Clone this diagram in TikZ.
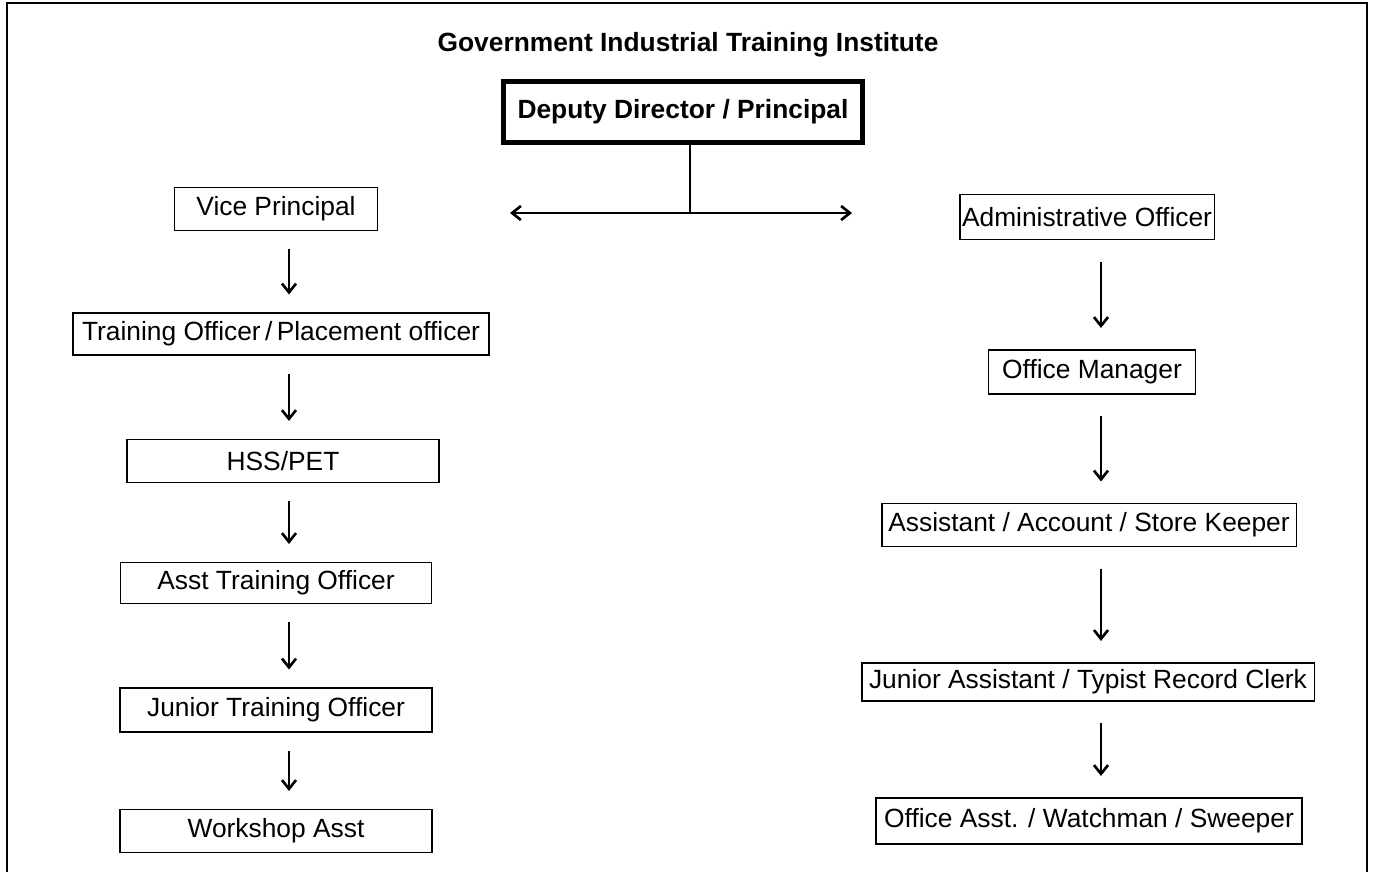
\documentclass[tikz,border=0pt]{standalone}
\usepackage{fontspec}
\setmainfont{Liberation Sans}
\usepackage{tikz}
\usetikzlibrary{arrows.meta}
\tikzset{
  >={Straight Barb[length=5pt,width=8pt,line width=1.5pt]},
  post/.style={draw, line width=1.1pt, inner sep=0pt, minimum height=#1,
    font=\fontsize{15}{18}\selectfont},
  post/.default={0.86cm},
  down/.style={->, line width=0.6pt, shorten <=#1, shorten >=#1},
  down/.default={10pt}
}

\begin{document}
\begin{tikzpicture}[x=0.02cm, y=-0.02cm]
                \useasboundingbox (0,0) rectangle (1373,872);

                % frame, open at the bottom
                \draw[line width=1.1pt] (7,872) -- (7,3) -- (1367,3) -- (1367,872);

                % heading
                \node (title) at (688,45) {\fontsize{15}{18}\selectfont\bfseries Government Industrial Training Institute};

                % top post
                \node[draw, line width=2.8pt, minimum width=7.18cm, minimum height=1.22cm,
                      font=\fontsize{15}{18}\selectfont\bfseries] (dd) at (683,112) {Deputy Director / Principal};

                % split to the two wings
                \coordinate (hub) at (690,213);
                \coordinate (hubL) at (510,213);
                \coordinate (hubR) at (852,213);
                \draw[line width=0.6pt] (dd.south -| hub) -- (hub);
                \draw[<->, line width=0.6pt] (hubL) -- (hubR);

                %Left: training side
                \node[post, minimum width=4.06cm] (vp) at (276,209) {Vice Principal};
                \node[post, minimum width=8.32cm, minimum height=0.84cm] (tpo) at (281,334) {Training Officer\,/\,Placement officer};
                \node[post, minimum width=6.24cm] (hss) at (283,461) {HSS/PET};
                \node[post, minimum width=6.22cm, minimum height=0.82cm] (ato) at (276,583) {Asst Training Officer};
                \node[post, minimum width=6.24cm, minimum height=0.88cm] (jto) at (276,710) {Junior Training Officer};
                \node[post, minimum width=6.24cm] (wsa) at (276,831) {Workshop Asst};

                %Right: office side
                \node[post, minimum width=5.1cm, minimum height=0.9cm] (ao) at (1087,217) {Administrative Officer};
                \node[post, minimum width=4.14cm, minimum height=0.88cm] (om) at (1092,372) {Office Manager};
                \node[post, minimum width=8.3cm] (ask) at (1089,525) {Assistant / Account / Store Keeper};
                \node[post, minimum width=9.06cm, minimum height=0.76cm] (jat) at (1088,682) {Junior Assistant / Typist Record Clerk};
                \node[post, minimum width=8.52cm, minimum height=0.92cm] (oaw) at (1089,821) {Office Asst. / Watchman / Sweeper};

                % arrows down each column
                \coordinate (lx) at (289,0);
                \coordinate (rx) at (1101,0);
                \foreach \a/\b in {vp/tpo, tpo/hss, hss/ato, ato/jto, jto/wsa}
                    \draw[down] (\a.south -| lx) -- (\b.north -| lx);
                \foreach \a/\b in {ao/om, om/ask, ask/jat, jat/oaw}
                    \draw[down=12pt] (\a.south -| rx) -- (\b.north -| rx);
            \end{tikzpicture}
\end{document}
